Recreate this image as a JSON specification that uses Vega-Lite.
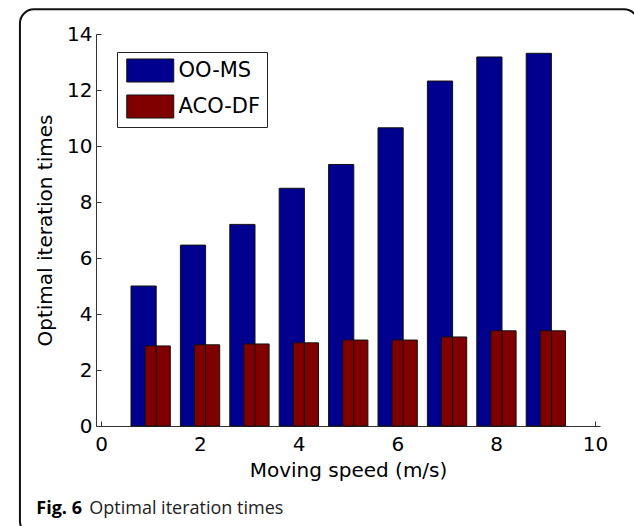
{
  "$schema": "https://vega.github.io/schema/vega-lite/v6.json",
  "autosize": {"type": "none"},
  "padding": {"left": 96, "top": 34, "right": 34, "bottom": 100},
  "width": 504,
  "height": 392,
  "background": "white",
  "config": {
    "view": {"stroke": null},
    "axis": {
      "grid": false,
      "domainColor": "#333333",
      "tickColor": "#333333",
      "labelColor": "#000000",
      "labelFont": "DejaVu Sans",
      "labelFontSize": 20,
      "titleFont": "DejaVu Sans",
      "titleFontSize": 20,
      "titleFontWeight": "normal",
      "titleColor": "#000000",
      "tickSize": -5,
      "labelFlush": false,
      "labelOverlap": false
    }
  },
  "data": {
    "values": [
      {"speed": 1, "method": "OO-MS", "value": 5.00},
      {"speed": 2, "method": "OO-MS", "value": 6.46},
      {"speed": 3, "method": "OO-MS", "value": 7.20},
      {"speed": 4, "method": "OO-MS", "value": 8.49},
      {"speed": 5, "method": "OO-MS", "value": 9.34},
      {"speed": 6, "method": "OO-MS", "value": 10.65},
      {"speed": 7, "method": "OO-MS", "value": 12.32},
      {"speed": 8, "method": "OO-MS", "value": 13.18},
      {"speed": 9, "method": "OO-MS", "value": 13.31},
      {"speed": 1, "method": "ACO-DF", "value": 2.86},
      {"speed": 2, "method": "ACO-DF", "value": 2.90},
      {"speed": 3, "method": "ACO-DF", "value": 2.93},
      {"speed": 4, "method": "ACO-DF", "value": 2.97},
      {"speed": 5, "method": "ACO-DF", "value": 3.07},
      {"speed": 6, "method": "ACO-DF", "value": 3.07},
      {"speed": 7, "method": "ACO-DF", "value": 3.18},
      {"speed": 8, "method": "ACO-DF", "value": 3.40},
      {"speed": 9, "method": "ACO-DF", "value": 3.40}
    ]
  },
  "layer": [
    {
      "data": {"values": [{"frame": 1}]},
      "mark": {"type": "rect", "fill": null, "filled": false, "stroke": "#111111", "strokeWidth": 2, "cornerRadius": 14},
      "encoding": {
        "x": {"datum": -1.641, "type": "quantitative", "scale": {"domain": [0, 10], "nice": false, "zero": false}},
        "x2": {"datum": 10.873},
        "y": {"datum": 14.88, "type": "quantitative", "scale": {"domain": [0, 14], "nice": false}},
        "y2": {"datum": -3.89}
      }
    },
    {
      "transform": [{"filter": "datum.method === 'OO-MS'"}],
      "mark": {"type": "bar", "width": 25.2, "xOffset": -6.8, "stroke": "#111111", "strokeWidth": 1, "opacity": 1},
      "encoding": {
        "x": {
          "field": "speed", "type": "quantitative",
          "scale": {"domain": [0, 10], "nice": false, "zero": false},
          "axis": {
            "values": [0, 2, 4, 6, 8, 10],
            "labelPadding": 13,
            "title": "Moving speed (m/s)",
            "titleX": 252,
            "titleY": 50,
            "titleBaseline": "alphabetic",
            "titleAlign": "center"
          }
        },
        "y": {
          "field": "value", "type": "quantitative",
          "scale": {"domain": [0, 14], "nice": false},
          "axis": {
            "values": [0, 2, 4, 6, 8, 10, 12, 14],
            "labelPadding": 9,
            "title": "Optimal iteration times",
            "titleX": -45,
            "titleY": 196,
            "titleAngle": -90,
            "titleBaseline": "alphabetic",
            "titleAlign": "center"
          }
        },
        "color": {
          "field": "method", "type": "nominal",
          "scale": {"domain": ["OO-MS", "ACO-DF"], "range": ["#00008F", "#800000"]},
          "legend": {
            "title": null,
            "orient": "none",
            "legendX": 21,
            "legendY": 18,
            "padding": 6,
            "strokeColor": "#222222",
            "fillColor": "#ffffff",
            "symbolType": "M-2,-0.98H2V0.98H-2Z",
            "symbolSize": 552.25,
            "symbolOffset": 14.75,
            "symbolStrokeColor": "#111111",
            "symbolStrokeWidth": 1,
            "symbolOpacity": 1,
            "labelFont": "DejaVu Sans",
            "labelFontSize": 21,
            "labelColor": "#000000",
            "labelOffset": 15.75,
            "rowPadding": 7
          }
        }
      }
    },
    {
      "transform": [{"filter": "datum.method === 'ACO-DF'"}],
      "mark": {"type": "bar", "width": 25.2, "xOffset": 7.3, "stroke": "#111111", "strokeWidth": 1, "opacity": 1},
      "encoding": {
        "x": {"field": "speed", "type": "quantitative"},
        "y": {"field": "value", "type": "quantitative"},
        "color": {"field": "method", "type": "nominal"}
      }
    },
    {
      "transform": [{"filter": "datum.method === 'ACO-DF'"}],
      "mark": {"type": "rule", "xOffset": 5.8, "color": "#111111", "strokeWidth": 1},
      "encoding": {
        "x": {"field": "speed", "type": "quantitative"},
        "y": {"field": "value", "type": "quantitative"},
        "y2": {"datum": 0}
      }
    },
    {
      "data": {"values": [{"label": "Fig. 6"}]},
      "mark": {"type": "text", "font": "Open Sans", "fontSize": 18, "fontWeight": "bold", "align": "left", "baseline": "alphabetic", "color": "#000000"},
      "encoding": {
        "x": {"datum": -1.31, "type": "quantitative"},
        "y": {"datum": -3.154, "type": "quantitative"},
        "text": {"field": "label"}
      }
    },
    {
      "data": {"values": [{"label": "Optimal iteration times"}]},
      "mark": {"type": "text", "font": "Open Sans", "fontSize": 18, "align": "left", "baseline": "alphabetic", "color": "#222222"},
      "encoding": {
        "x": {"datum": -0.238, "type": "quantitative"},
        "y": {"datum": -3.154, "type": "quantitative"},
        "text": {"field": "label"}
      }
    }
  ]
}
